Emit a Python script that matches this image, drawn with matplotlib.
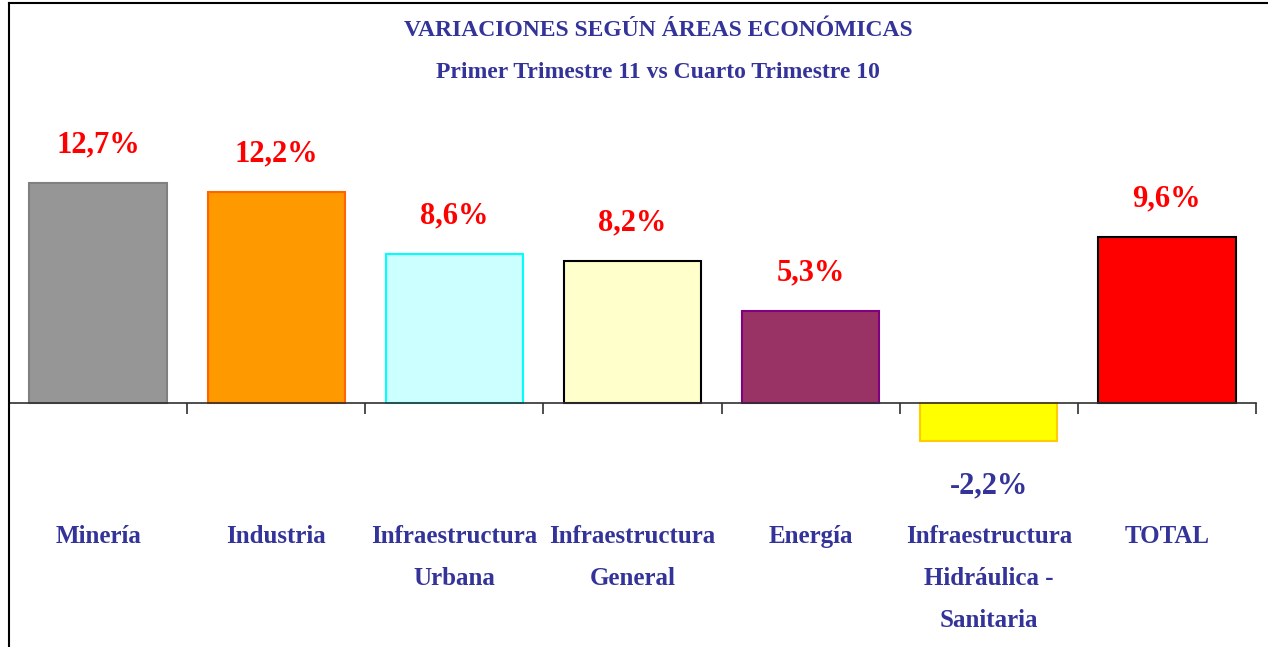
import matplotlib.pyplot as plt
from matplotlib.lines import Line2D

categories = ["Minería", "Industria", "Infraestructura\nUrbana", "Infraestructura\nGeneral",
              "Energía", "Infraestructura\nHidráulica -\nSanitaria", "TOTAL"]
values = [12.7, 12.2, 8.6, 8.2, 5.3, -2.2, 9.6]
value_labels = ["12,7%", "12,2%", "8,6%", "8,2%", "5,3%", "-2,2%", "9,6%"]
fill_colors = ["#969696", "#FF9900", "#CCFFFF", "#FFFFCC", "#993366", "#FFFF00", "#FF0000"]
edge_colors = ["#808080", "#FF6600", "#00FFFF", "#000000", "#800080", "#FFCC00", "#000000"]

NAVY = "#333399"
W, H = 1268, 647

plt.rcParams["font.family"] = ["Liberation Serif", "DejaVu Serif"]
plt.rcParams["font.weight"] = "bold"

fig = plt.figure(figsize=(W / 100, H / 100), dpi=100)

# axes placed so that zero sits at y=403 px, ~17.3 px per unit
px_per_unit = 17.32
y_top, y_bot = 17.5, -3.3
zero_px = 403
ax_top_px = zero_px - y_top * px_per_unit
ax_bot_px = zero_px - y_bot * px_per_unit
ax = fig.add_axes([9 / W, 1 - ax_bot_px / H, (1256 - 9) / W, (ax_bot_px - ax_top_px) / H])

x = list(range(len(categories)))
ax.bar(x, values, width=0.77, color=fill_colors, edgecolor=edge_colors, linewidth=1.5, zorder=2)

ax.set_xlim(-0.5, len(categories) - 0.5)
ax.set_ylim(y_bot, y_top)
for s in ["top", "right", "left"]:
    ax.spines[s].set_visible(False)
ax.spines["bottom"].set_position(("data", 0))
ax.spines["bottom"].set_color("#303030")
ax.spines["bottom"].set_linewidth(1.2)
ax.spines["bottom"].set_zorder(3)
ax.set_xticks([i + 0.5 for i in x])
ax.set_xticklabels([])
ax.tick_params(axis="x", direction="out", length=8, width=1.2, color="#303030")
ax.set_yticks([])
ax.patch.set_visible(False)

# value labels
for xi, v, lab in zip(x, values, value_labels):
    if v >= 0:
        ax.annotate(lab, (xi, v), xytext=(0, 17), textcoords="offset points",
                    ha="center", va="bottom", color="#FF0000", fontsize=22, fontweight="bold")
    else:
        ax.annotate(lab, (xi, v), xytext=(0, -22), textcoords="offset points",
                    ha="center", va="top", color=NAVY, fontsize=22, fontweight="bold")

# category labels
for xi, cat in zip(x, categories):
    fig.text((9 + (xi + 0.5) * (1247 / 7)) / W, 1 - 525 / H, cat, ha="center", va="top",
             color=NAVY, fontsize=18, fontweight="bold", linespacing=2.05)

# titles
fig.text(658 / W, 1 - 30 / H, "VARIACIONES SEGÚN ÁREAS ECONÓMICAS", ha="center", va="center",
         color=NAVY, fontsize=17, fontweight="bold")
fig.text(658 / W, 1 - 73 / H, "Primer Trimestre 11 vs Cuarto Trimestre 10", ha="center",
         va="center", color=NAVY, fontsize=17, fontweight="bold")

# chart frame (top and left edges visible)
fig.add_artist(Line2D([9 / W, 9 / W], [0, 1 - 3 / H], color="#000000", linewidth=1.5))
fig.add_artist(Line2D([9 / W, 1], [1 - 3 / H, 1 - 3 / H], color="#000000", linewidth=1.5))

fig.savefig("out.png", dpi=100, facecolor="white")
